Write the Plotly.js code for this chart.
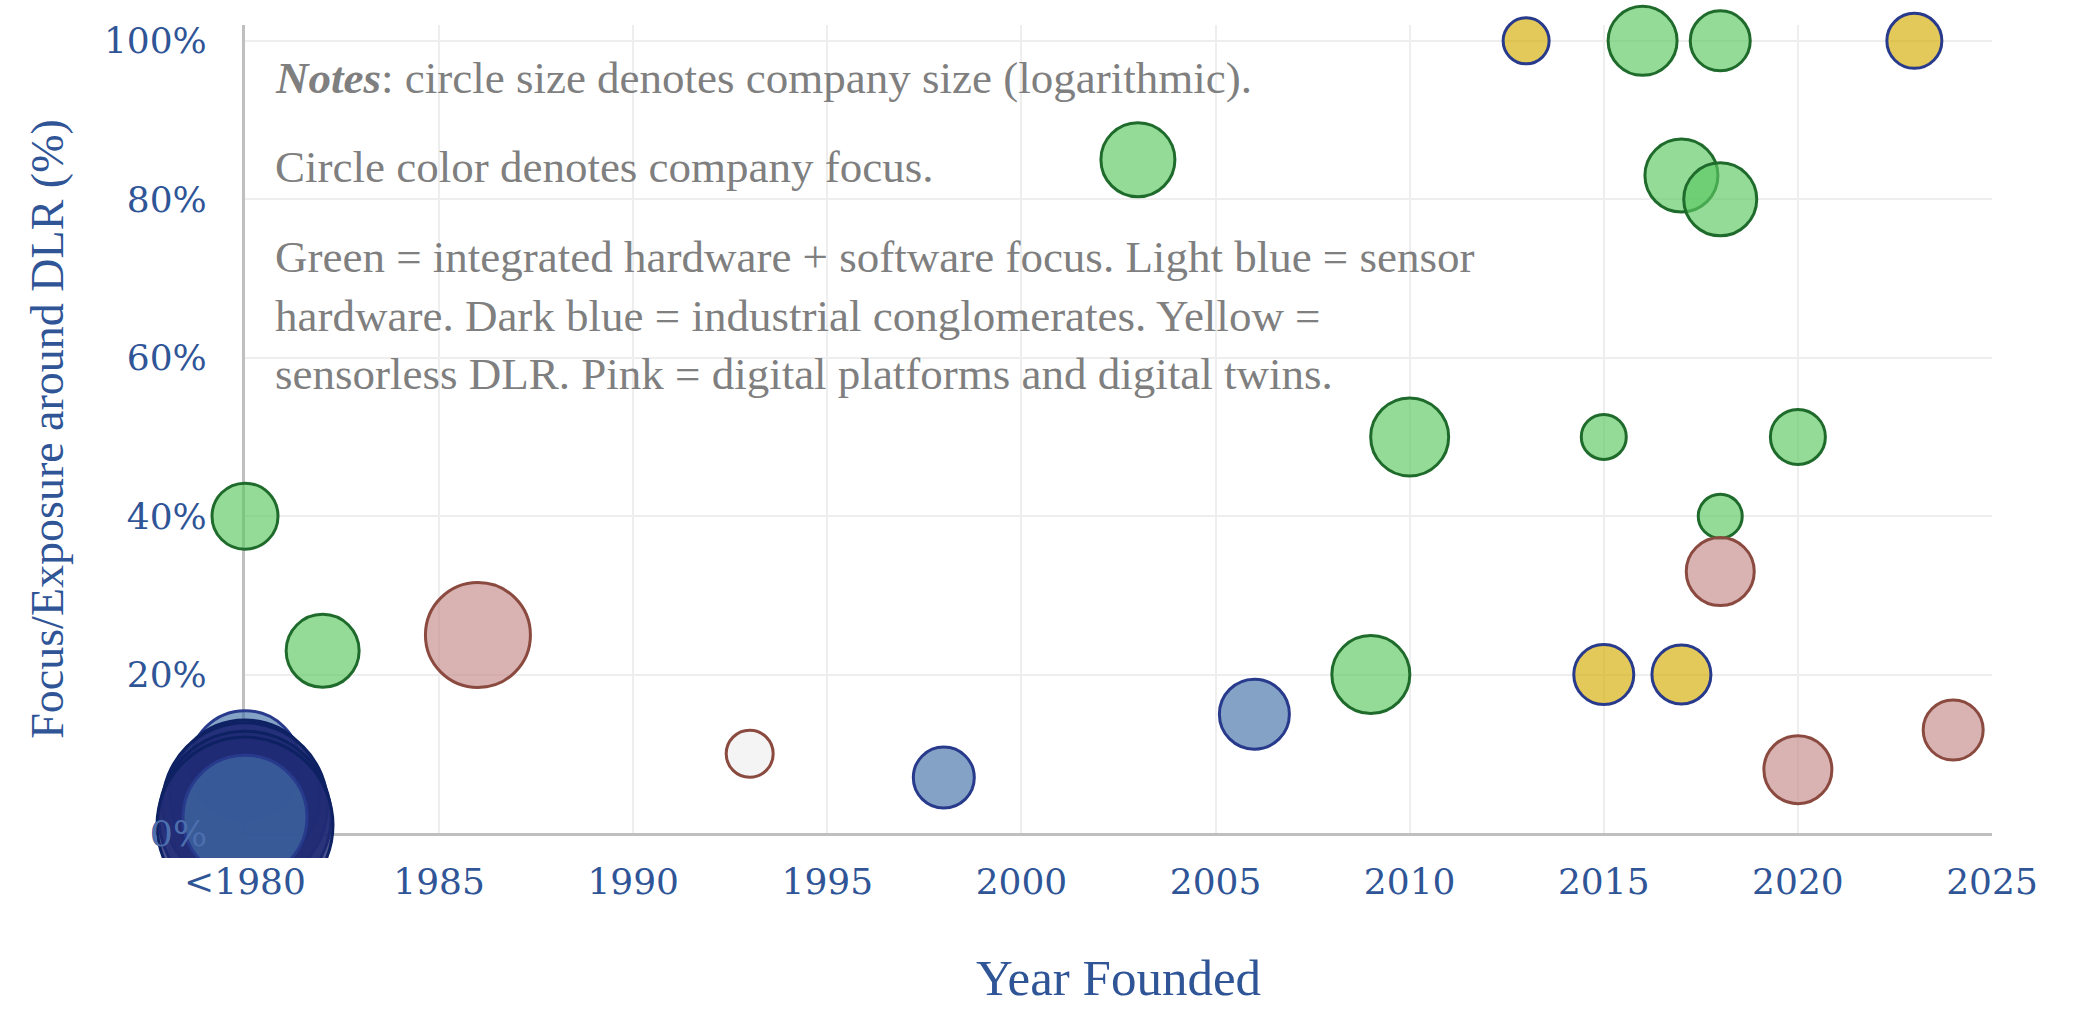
<!DOCTYPE html>
<html>
<head>
<meta charset="utf-8">
<script src="https://cdn.plot.ly/plotly-3.0.1.min.js"></script>
<style>html,body{margin:0;padding:0;background:#fff;}#chart{width:2079px;height:1023px;}</style>
</head>
<body>
<div id="chart"></div>
<script>
// ---- data ----
// year founded (1980 stands for "<1980")
const yearFounded = [1980, 1980, 1980, 1980, 1980, 1980,
  1980, 1982, 1986, 1993, 1998, 2003, 2006, 2009, 2010, 2013,
  2015, 2015, 2016, 2017, 2018, 2017, 2018, 2018, 2018, 2020, 2020, 2023, 2024];
// focus / exposure around DLR (%)
const dlrFocus = [8.5, 4.8, 3.5, 2, 1, 2,
  40, 23, 25, 10, 7, 85, 15, 20, 50, 100,
  50, 20, 100, 83, 80, 20, 100, 40, 33, 50, 8, 100, 13];
// company size score (logarithmic)
const companySize = [11, 15, 16.5, 17.2, 17.6, 12.4,
  6.6, 7.3, 10.5, 4.7, 6.1, 7.4, 7.0, 7.8, 7.8, 4.6,
  4.5, 6.0, 6.9, 7.3, 7.3, 5.9, 6.0, 4.4, 6.8, 5.5, 6.8, 5.5, 6.0];
// company focus category
const focusCategory = ['sensor', 'conglomerate', 'conglomerate', 'conglomerate', 'conglomerate', 'sensor',
  'integrated', 'integrated', 'digital', 'other', 'sensor', 'integrated', 'sensor', 'integrated', 'integrated', 'sensorless',
  'integrated', 'sensorless', 'integrated', 'integrated', 'integrated', 'sensorless', 'integrated', 'integrated', 'digital', 'integrated', 'digital', 'sensorless', 'digital'];

const xTickVals = [1980, 1985, 1990, 1995, 2000, 2005, 2010, 2015, 2020, 2025];
const xTickText = ['<1980', '1985', '1990', '1995', '2000', '2005', '2010', '2015', '2020', '2025'];
const yTickVals = [0, 20, 40, 60, 80, 100];
const yTickText = ['0%', '20%', '40%', '60%', '80%', '100%'];
const xRange = [1980, 2025];
const yRange = [0, 102];

// ---- styles / geometry ----
const W = 2079, H = 1023;
const plotL = 245, plotR = 1992, plotT = 25, plotB = 833;   // plot area in px
const markerClipB = 858;                                     // markers are cut a little below the x axis

const fillColors = {
  integrated: 'rgba(92,200,98,0.66)',
  sensor: 'rgba(68,114,168,0.66)',
  conglomerate: 'rgba(32,44,118,0.8)',
  sensorless: 'rgba(212,171,5,0.66)',
  digital: 'rgba(197,138,138,0.66)',
  other: 'rgba(239,239,239,0.7)'
};
const lineColors = {
  integrated: '#1f6b2c',
  sensor: '#283a8c',
  conglomerate: '#0e2263',
  sensorless: '#283a8c',
  digital: '#8b4a3f',
  other: '#8b4a3f'
};

const axisBlue = '#2f5597';
const serif = 'Liberation Serif, Times New Roman, serif';
const tickFont = {family: 'DejaVu Serif, serif', size: 36, color: axisBlue};

// marker layer: same data scale as the visible axes, but a larger clip box
const pxPerYear = (plotR - plotL) / (xRange[1] - xRange[0]);
const pxPerPct = (plotB - plotT) / (yRange[1] - yRange[0]);
const x2Range = [xRange[0] - plotL / pxPerYear, xRange[1] + (W - plotR) / pxPerYear];
const y2Range = [yRange[0] - (markerClipB - plotB) / pxPerPct, yRange[1] + plotT / pxPerPct];

const xDomain = [plotL / W, plotR / W];
const yDomain = [(H - plotB) / H, (H - plotT) / H];

const trace = {
  type: 'scatter',
  mode: 'markers',
  xaxis: 'x2',
  yaxis: 'y2',
  x: yearFounded,
  y: dlrFocus,
  cliponaxis: true,
  hoverinfo: 'skip',
  marker: {
    size: companySize,
    sizemode: 'diameter',
    sizeref: 0.1,
    opacity: 1,
    color: focusCategory.map(c => fillColors[c]),
    line: {color: focusCategory.map(c => lineColors[c]), width: 3}
  }
};

const noteFont = {family: serif, size: 45, color: '#7f7f7f'};
const layout = {
  width: W,
  height: H,
  margin: {l: 0, r: 0, t: 0, b: 0},
  paper_bgcolor: '#ffffff',
  plot_bgcolor: 'rgba(0,0,0,0)',
  showlegend: false,
  xaxis: {
    domain: xDomain,
    anchor: 'y',
    range: xRange,
    tickvals: xTickVals,
    ticktext: xTickText,
    tickfont: tickFont,
    ticks: '',
    ticklabelstandoff: 15,
    showgrid: true,
    gridcolor: '#eeeeee',
    gridwidth: 2,
    zeroline: false,
    showline: true,
    linecolor: '#bfbfbf',
    linewidth: 3,
    title: {text: 'Year Founded', font: {family: serif, size: 51, color: axisBlue}, standoff: 59}
  },
  yaxis: {
    domain: yDomain,
    anchor: 'x',
    range: yRange,
    tickvals: yTickVals,
    ticktext: yTickText,
    tickfont: tickFont,
    ticks: '',
    ticklabelstandoff: 28,
    showgrid: true,
    gridcolor: '#eeeeee',
    gridwidth: 2,
    zeroline: false,
    showline: true,
    linecolor: '#bfbfbf',
    linewidth: 3,
    title: {text: 'Focus/Exposure around DLR (%)', font: {family: serif, size: 46, color: axisBlue}, standoff: 26}
  },
  xaxis2: {domain: [0, 1], anchor: 'y2', range: x2Range, visible: false, showgrid: false, zeroline: false},
  yaxis2: {domain: [(H - markerClipB) / H, 1], anchor: 'x2', range: y2Range, visible: false, showgrid: false, zeroline: false},
  annotations: [
    {xref: 'x domain', yref: 'y domain', x: 0.016, y: 0.934, xanchor: 'left', yanchor: 'middle', align: 'left', showarrow: false,
     font: noteFont, text: '<b><i>Notes</i></b>: circle size denotes company size (logarithmic).'},
    {xref: 'x domain', yref: 'y domain', x: 0.016, y: 0.8243, xanchor: 'left', yanchor: 'middle', align: 'left', showarrow: false,
     font: noteFont, text: 'Circle color denotes company focus.'},
    {xref: 'x domain', yref: 'y domain', x: 0.016, y: 0.6407, xanchor: 'left', yanchor: 'middle', align: 'left', showarrow: false,
     font: noteFont, text: 'Green = integrated hardware + software focus. Light blue = sensor<br>hardware. Dark blue = industrial conglomerates. Yellow =<br>sensorless DLR. Pink = digital platforms and digital twins.'},
    // the 0% tick label shows through the bubbles at the origin
    {xref: 'x', yref: 'y', x: xRange[0], y: 0, xanchor: 'right', yanchor: 'middle', xshift: -36, showarrow: false,
     font: {family: 'DejaVu Serif, serif', size: 36, color: '#4d6fae'}, text: yTickText[0]}
  ]
};

Plotly.newPlot('chart', [trace], layout, {displayModeBar: false, staticPlot: true});
</script>
</body>
</html>
